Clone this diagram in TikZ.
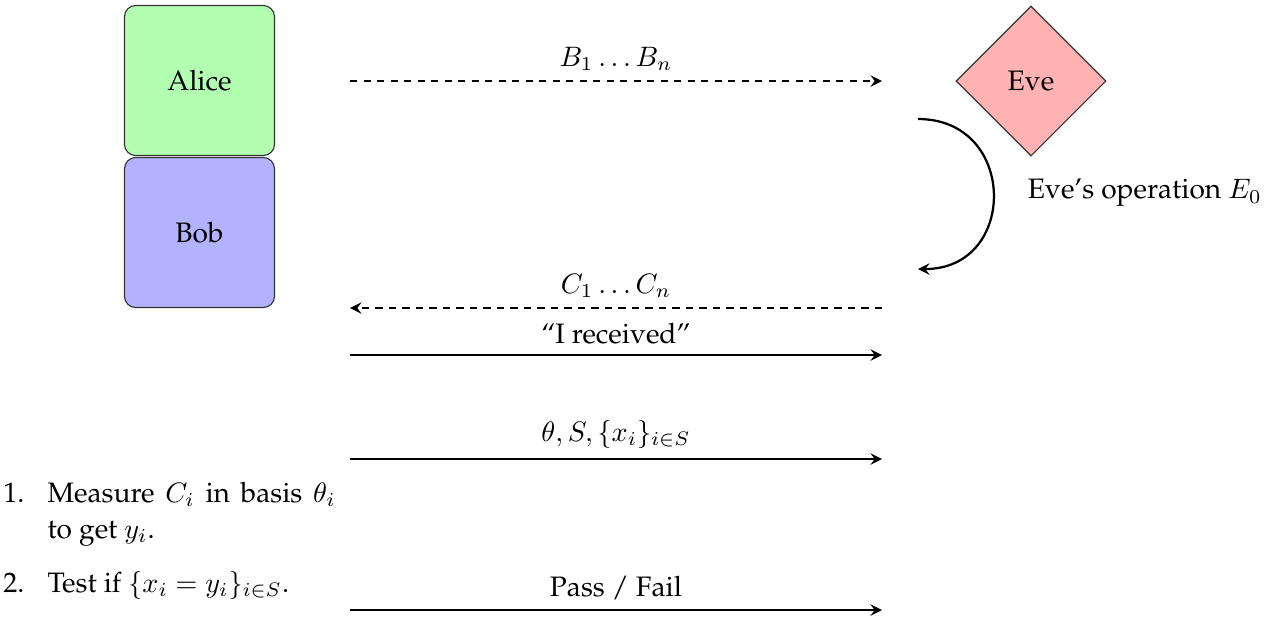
\documentclass[tikz,border=0pt]{standalone}
\usepackage[T1]{fontenc}
\usepackage{palatino}
\usetikzlibrary{shapes.geometric,arrows.meta}
\begin{document}
\begin{tikzpicture}[x=0.0125cm,y=-0.0125cm, >=stealth,
  party/.style={draw=black!80, rounded corners=4pt, minimum width=1.875cm, minimum height=1.875cm, inner sep=0pt},
  adv/.style={draw=black!80, diamond, aspect=1, minimum width=1.875cm, minimum height=1.875cm, inner sep=0pt, fill=red!30},
  msg/.style={thick, ->},
  qmsg/.style={thick, ->, dash pattern=on 2.6pt off 2.2pt},
  lbl/.style={above},
  itemlabel/.style={anchor=base east, inner sep=0pt},
  itemtext/.style={anchor=base west, inner sep=0pt}
]
\useasboundingbox (0,0) rectangle (1281,618);
\node[party, fill=green!30] (alice) at (199.5,80.5) {Alice};
\node[party, fill=blue!30] (bob) at (199.5,232.5) {Bob};
\node[adv] (eve) at (1031,81) {Eve};

\coordinate (l1) at (350,81);  \coordinate (r1) at (882,81);
\coordinate (l2) at (350,308); \coordinate (r2) at (882,308);
\coordinate (l3) at (350,355); \coordinate (r3) at (882,355);
\coordinate (l4) at (350,459); \coordinate (r4) at (882,459);
\coordinate (l5) at (350,610); \coordinate (r5) at (882,610);
\coordinate (c1) at (918,119); \coordinate (c2) at (918,269);

\draw[qmsg] (l1) -- node[lbl] (bl) {$B_1\ldots B_n$} (r1);
\draw[thick, ->] (c1) .. controls (1018,119) and (1018,269) .. (c2);
\node[anchor=west] (op) at (1018,193) {Eve's operation $E_0$};
\draw[qmsg] (r2) -- node[lbl] (cl) {$C_1\ldots C_n$} (l2);
\draw[msg] (l3) -- node[lbl] (il) {``I received''} (r3);
\draw[msg] (l4) -- node[lbl] (tl) {$\theta, S, \{x_i\}_{i\in S}$} (r4);
\draw[msg] (l5) -- node[lbl] (pl) {Pass / Fail} (r5);

\node[itemlabel] (i1) at (25,502) {1.};
\node[itemtext] (t1) at (47,502) {\begin{tabular}[t]{@{}l@{}}\makebox[3.6cm][s]{Measure $C_i$ in basis $\theta_i$}\\[0.8pt]to get $y_i$.\end{tabular}};
\node[itemlabel] (i2) at (25,592) {2.};
\node[itemtext] (t2) at (47,592) {Test if $\{x_i=y_i\}_{i\in S}$.};
\end{tikzpicture}
\end{document}
